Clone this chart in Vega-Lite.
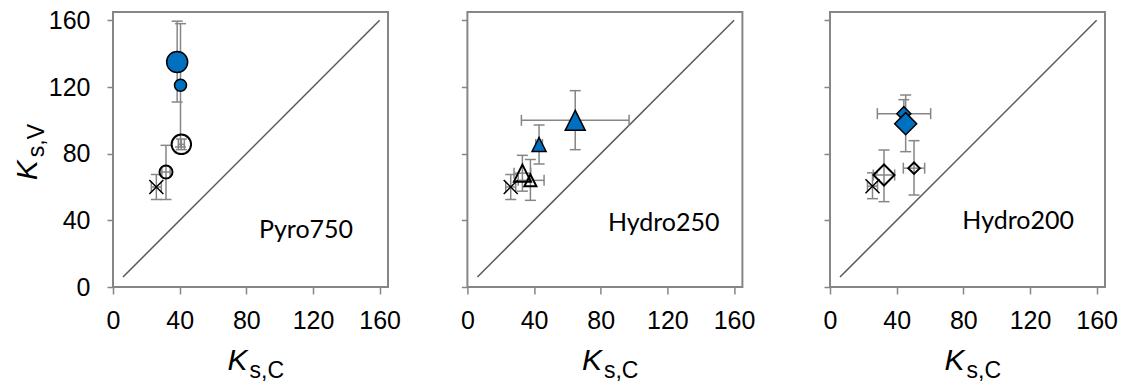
{
  "$schema": "https://vega.github.io/schema/vega-lite/v6.json",
  "padding": {"left": 11, "top": 7, "right": 5, "bottom": 0},
  "background": "white",
  "datasets": {
    "diag": [{"x1": 6, "y1": 6, "x2": 160, "y2": 160}],
    "points": [
      {"panel": "Pyro750", "kind": "ref", "x": 26, "y": 60, "xlo": 23, "xhi": 29, "ylo": 52.5, "yhi": 67.5},
      {"panel": "Pyro750", "kind": "open-small", "x": 31.8, "y": 69, "xlo": 29.3, "xhi": 34.3, "ylo": 52.5, "yhi": 85},
      {"panel": "Pyro750", "kind": "open-large", "x": 41, "y": 85.6, "xlo": 39.2, "xhi": 42.8, "ylo": 82.4, "yhi": 88.8},
      {"panel": "Pyro750", "kind": "filled-small", "x": 40.5, "y": 121, "xlo": 38.5, "xhi": 42.5, "ylo": 84, "yhi": 158},
      {"panel": "Pyro750", "kind": "filled-large", "x": 38.5, "y": 135, "xlo": 36, "xhi": 41, "ylo": 111, "yhi": 159.5},
      {"panel": "Hydro250", "kind": "ref", "x": 26, "y": 60, "xlo": 23, "xhi": 29, "ylo": 52.5, "yhi": 67.5},
      {"panel": "Hydro250", "kind": "open-large", "x": 33, "y": 68.3, "xlo": 28, "xhi": 38, "ylo": 57.5, "yhi": 79},
      {"panel": "Hydro250", "kind": "open-small", "x": 37.8, "y": 64, "xlo": 30.5, "xhi": 46, "ylo": 52, "yhi": 76.5},
      {"panel": "Hydro250", "kind": "filled-small", "x": 43, "y": 85.5, "xlo": 41, "xhi": 45, "ylo": 73.8, "yhi": 97.2},
      {"panel": "Hydro250", "kind": "filled-large", "x": 64.7, "y": 100, "xlo": 32.4, "xhi": 97, "ylo": 82.4, "yhi": 117.8},
      {"panel": "Hydro200", "kind": "ref", "x": 25.5, "y": 60.5, "xlo": 22.5, "xhi": 28.5, "ylo": 53, "yhi": 68.5},
      {"panel": "Hydro200", "kind": "open-large", "x": 32.4, "y": 67.2, "xlo": 26, "xhi": 38.8, "ylo": 51.2, "yhi": 82.2},
      {"panel": "Hydro200", "kind": "open-small", "x": 50.4, "y": 71.3, "xlo": 44, "xhi": 56.8, "ylo": 55.2, "yhi": 87.8},
      {"panel": "Hydro200", "kind": "filled-small", "x": 44.3, "y": 104, "xlo": 28.4, "xhi": 60.4, "ylo": 95.5, "yhi": 112.4},
      {"panel": "Hydro200", "kind": "filled-large", "x": 45.4, "y": 98, "xlo": 43.5, "xhi": 47.5, "ylo": 81.2, "yhi": 115.2}
    ],
    "labels": [
      {"panel": "Pyro750", "x": 115.8, "y": 34.1, "text": "Pyro750"},
      {"panel": "Hydro250", "x": 117.8, "y": 38.2, "text": "Hydro250"},
      {"panel": "Hydro200", "x": 112.9, "y": 39.7, "text": "Hydro200"}
    ]
  },
  "spacing": 79.4,
  "bounds": "flush",
  "resolve": {"scale": {"shape": "independent", "size": "independent", "fill": "independent", "strokeWidth": "independent"}},
  "hconcat": [
    {
      "width": 275, "height": 275,
      "resolve": {"axis": {"x": "independent", "y": "independent"}},
      "layer": [
        {"data": {"name": "diag"}, "mark": {"type": "rule", "color": "#595959", "strokeWidth": 1.5},
         "encoding": {
           "x": {"field": "x1", "type": "quantitative", "scale": {"domain": [0, 165], "nice": false},
                 "axis": {"values": [0, 40, 80, 120, 160], "title": "K", "titleX": 114, "titleY": 82.3, "titleAlign": "left", "titleBaseline": "alphabetic"}},
           "y": {"field": "y1", "type": "quantitative", "scale": {"domain": [0, 165], "nice": false},
                 "axis": {"values": [0, 40, 80, 120, 160], "title": "K", "titleX": -77, "titleY": 167.7, "titleAngle": 270, "titleAlign": "left", "titleBaseline": "alphabetic"}},
           "x2": {"field": "x2"}, "y2": {"field": "y2"}}},
        {"data": {"name": "points"}, "transform": [{"filter": "datum.panel === 'Pyro750'"}],
         "mark": {"type": "rule", "color": "#868686", "strokeWidth": 1.5},
         "encoding": {
           "x": {"field": "x", "type": "quantitative", "scale": {"domain": [0, 165], "nice": false}, "axis": null},
           "y": {"field": "ylo", "type": "quantitative", "scale": {"domain": [0, 165], "nice": false}, "axis": null},
           "y2": {"field": "yhi"}}},
        {"data": {"name": "points"}, "transform": [{"filter": "datum.panel === 'Pyro750'"}],
         "mark": {"type": "rule", "color": "#868686", "strokeWidth": 1.5},
         "encoding": {
           "x": {"field": "xlo", "type": "quantitative", "scale": {"domain": [0, 165], "nice": false}, "axis": null},
           "x2": {"field": "xhi"},
           "y": {"field": "y", "type": "quantitative", "scale": {"domain": [0, 165], "nice": false}, "axis": null}}},
        {"data": {"name": "points"}, "transform": [{"filter": "datum.panel === 'Pyro750'"}],
         "mark": {"type": "tick", "orient": "horizontal", "color": "#868686", "size": 11, "thickness": 1.5, "opacity": 1},
         "encoding": {
           "x": {"field": "x", "type": "quantitative", "scale": {"domain": [0, 165], "nice": false}, "axis": null},
           "y": {"field": "ylo", "type": "quantitative", "scale": {"domain": [0, 165], "nice": false}, "axis": null}}},
        {"data": {"name": "points"}, "transform": [{"filter": "datum.panel === 'Pyro750'"}],
         "mark": {"type": "tick", "orient": "horizontal", "color": "#868686", "size": 11, "thickness": 1.5, "opacity": 1},
         "encoding": {
           "x": {"field": "x", "type": "quantitative", "scale": {"domain": [0, 165], "nice": false}, "axis": null},
           "y": {"field": "yhi", "type": "quantitative", "scale": {"domain": [0, 165], "nice": false}, "axis": null}}},
        {"data": {"name": "points"}, "transform": [{"filter": "datum.panel === 'Pyro750'"}],
         "mark": {"type": "tick", "orient": "vertical", "color": "#868686", "size": 11, "thickness": 1.5, "opacity": 1},
         "encoding": {
           "x": {"field": "xlo", "type": "quantitative", "scale": {"domain": [0, 165], "nice": false}, "axis": null},
           "y": {"field": "y", "type": "quantitative", "scale": {"domain": [0, 165], "nice": false}, "axis": null}}},
        {"data": {"name": "points"}, "transform": [{"filter": "datum.panel === 'Pyro750'"}],
         "mark": {"type": "tick", "orient": "vertical", "color": "#868686", "size": 11, "thickness": 1.5, "opacity": 1},
         "encoding": {
           "x": {"field": "xhi", "type": "quantitative", "scale": {"domain": [0, 165], "nice": false}, "axis": null},
           "y": {"field": "y", "type": "quantitative", "scale": {"domain": [0, 165], "nice": false}, "axis": null}}},
        {"data": {"name": "points"}, "transform": [{"filter": "datum.panel === 'Pyro750'"}],
         "mark": {"type": "point", "filled": true, "stroke": "black", "opacity": 1},
         "encoding": {
           "x": {"field": "x", "type": "quantitative", "scale": {"domain": [0, 165], "nice": false}, "axis": null},
           "y": {"field": "y", "type": "quantitative", "scale": {"domain": [0, 165], "nice": false}, "axis": null},
           "shape": {"field": "kind", "type": "nominal", "legend": null,
                     "scale": {"domain": ["ref", "open-small", "open-large", "filled-small", "filled-large"],
                               "range": ["M-1,-1L1,1M-1,1L1,-1", "circle", "circle", "circle", "circle"]}},
           "size": {"field": "kind", "type": "nominal", "legend": null,
                    "scale": {"type": "ordinal", "domain": ["ref", "open-small", "open-large", "filled-small", "filled-large"],
                              "range": [196, 169, 380, 144, 441]}},
           "fill": {"field": "kind", "type": "nominal", "legend": null,
                    "scale": {"domain": ["ref", "open-small", "open-large", "filled-small", "filled-large"],
                              "range": ["transparent", "transparent", "transparent", "#0070C0", "#0070C0"]}},
           "strokeWidth": {"field": "kind", "type": "nominal", "legend": null,
                           "scale": {"type": "ordinal", "domain": ["ref", "open-small", "open-large", "filled-small", "filled-large"],
                                     "range": [1.5, 2, 2, 1.5, 1.5]}}}},
        {"data": {"name": "labels"}, "transform": [{"filter": "datum.panel === 'Pyro750'"}],
         "mark": {"type": "text", "font": "Lato", "fontSize": 25, "align": "center", "baseline": "middle", "color": "black"},
         "encoding": {
           "x": {"field": "x", "type": "quantitative", "scale": {"domain": [0, 165], "nice": false},
                 "axis": {"orient": "bottom", "title": "s,C", "titleFontStyle": "normal", "titleFontSize": 23, "titleX": 136, "titleY": 90.6, "titleAlign": "left", "titleBaseline": "alphabetic", "labels": false, "ticks": false, "domain": false}},
           "y": {"field": "y", "type": "quantitative", "scale": {"domain": [0, 165], "nice": false},
                 "axis": {"orient": "left", "title": "s,V", "titleFontStyle": "normal", "titleFontSize": 23, "titleX": -70, "titleY": 144.7, "titleAngle": 270, "titleAlign": "left", "titleBaseline": "alphabetic", "labels": false, "ticks": false, "domain": false}},
           "text": {"field": "text"}}}
      ]
    },
    {
      "spacing": 87.6,
      "bounds": "flush",
      "resolve": {"scale": {"shape": "independent", "size": "independent", "fill": "independent", "strokeWidth": "independent"}},
      "hconcat": [
        {
          "width": 275, "height": 275,
          "resolve": {"axis": {"x": "independent", "y": "independent"}},
          "layer": [
            {"data": {"name": "diag"}, "mark": {"type": "rule", "color": "#595959", "strokeWidth": 1.5},
             "encoding": {
               "x": {"field": "x1", "type": "quantitative", "scale": {"domain": [0, 165], "nice": false},
                     "axis": {"values": [0, 40, 80, 120, 160], "title": "K", "titleX": 114, "titleY": 82.3, "titleAlign": "left", "titleBaseline": "alphabetic"}},
               "y": {"field": "y1", "type": "quantitative", "scale": {"domain": [0, 165], "nice": false},
                     "axis": {"values": [0, 40, 80, 120, 160], "labels": false, "title": null}},
               "x2": {"field": "x2"}, "y2": {"field": "y2"}}},
            {"data": {"name": "points"}, "transform": [{"filter": "datum.panel === 'Hydro250'"}],
             "mark": {"type": "rule", "color": "#868686", "strokeWidth": 1.5},
             "encoding": {
               "x": {"field": "x", "type": "quantitative", "scale": {"domain": [0, 165], "nice": false}, "axis": null},
               "y": {"field": "ylo", "type": "quantitative", "scale": {"domain": [0, 165], "nice": false}, "axis": null},
               "y2": {"field": "yhi"}}},
            {"data": {"name": "points"}, "transform": [{"filter": "datum.panel === 'Hydro250'"}],
             "mark": {"type": "rule", "color": "#868686", "strokeWidth": 1.5},
             "encoding": {
               "x": {"field": "xlo", "type": "quantitative", "scale": {"domain": [0, 165], "nice": false}, "axis": null},
               "x2": {"field": "xhi"},
               "y": {"field": "y", "type": "quantitative", "scale": {"domain": [0, 165], "nice": false}, "axis": null}}},
            {"data": {"name": "points"}, "transform": [{"filter": "datum.panel === 'Hydro250'"}],
             "mark": {"type": "tick", "orient": "horizontal", "color": "#868686", "size": 11, "thickness": 1.5, "opacity": 1},
             "encoding": {
               "x": {"field": "x", "type": "quantitative", "scale": {"domain": [0, 165], "nice": false}, "axis": null},
               "y": {"field": "ylo", "type": "quantitative", "scale": {"domain": [0, 165], "nice": false}, "axis": null}}},
            {"data": {"name": "points"}, "transform": [{"filter": "datum.panel === 'Hydro250'"}],
             "mark": {"type": "tick", "orient": "horizontal", "color": "#868686", "size": 11, "thickness": 1.5, "opacity": 1},
             "encoding": {
               "x": {"field": "x", "type": "quantitative", "scale": {"domain": [0, 165], "nice": false}, "axis": null},
               "y": {"field": "yhi", "type": "quantitative", "scale": {"domain": [0, 165], "nice": false}, "axis": null}}},
            {"data": {"name": "points"}, "transform": [{"filter": "datum.panel === 'Hydro250'"}],
             "mark": {"type": "tick", "orient": "vertical", "color": "#868686", "size": 11, "thickness": 1.5, "opacity": 1},
             "encoding": {
               "x": {"field": "xlo", "type": "quantitative", "scale": {"domain": [0, 165], "nice": false}, "axis": null},
               "y": {"field": "y", "type": "quantitative", "scale": {"domain": [0, 165], "nice": false}, "axis": null}}},
            {"data": {"name": "points"}, "transform": [{"filter": "datum.panel === 'Hydro250'"}],
             "mark": {"type": "tick", "orient": "vertical", "color": "#868686", "size": 11, "thickness": 1.5, "opacity": 1},
             "encoding": {
               "x": {"field": "xhi", "type": "quantitative", "scale": {"domain": [0, 165], "nice": false}, "axis": null},
               "y": {"field": "y", "type": "quantitative", "scale": {"domain": [0, 165], "nice": false}, "axis": null}}},
            {"data": {"name": "points"}, "transform": [{"filter": "datum.panel === 'Hydro250'"}],
             "mark": {"type": "point", "filled": true, "stroke": "black", "opacity": 1},
             "encoding": {
               "x": {"field": "x", "type": "quantitative", "scale": {"domain": [0, 165], "nice": false}, "axis": null},
               "y": {"field": "y", "type": "quantitative", "scale": {"domain": [0, 165], "nice": false}, "axis": null},
               "shape": {"field": "kind", "type": "nominal", "legend": null,
                         "scale": {"domain": ["ref", "open-small", "open-large", "filled-small", "filled-large"],
                                   "range": ["M-1,-1L1,1M-1,1L1,-1", "M0,-1L1,1L-1,1Z", "M0,-1L1,1L-1,1Z", "M0,-1L1,1L-1,1Z", "M0,-1L1,1L-1,1Z"]}},
               "size": {"field": "kind", "type": "nominal", "legend": null,
                        "scale": {"type": "ordinal", "domain": ["ref", "open-small", "open-large", "filled-small", "filled-large"],
                                  "range": [196, 144, 289, 196, 400]}},
               "fill": {"field": "kind", "type": "nominal", "legend": null,
                        "scale": {"domain": ["ref", "open-small", "open-large", "filled-small", "filled-large"],
                                  "range": ["transparent", "transparent", "transparent", "#0070C0", "#0070C0"]}},
               "strokeWidth": {"field": "kind", "type": "nominal", "legend": null,
                               "scale": {"type": "ordinal", "domain": ["ref", "open-small", "open-large", "filled-small", "filled-large"],
                                         "range": [1.5, 2, 2, 1.5, 1.5]}}}},
            {"data": {"name": "labels"}, "transform": [{"filter": "datum.panel === 'Hydro250'"}],
             "mark": {"type": "text", "font": "Lato", "fontSize": 25, "align": "center", "baseline": "middle", "color": "black"},
             "encoding": {
               "x": {"field": "x", "type": "quantitative", "scale": {"domain": [0, 165], "nice": false},
                     "axis": {"orient": "bottom", "title": "s,C", "titleFontStyle": "normal", "titleFontSize": 23, "titleX": 136, "titleY": 90.6, "titleAlign": "left", "titleBaseline": "alphabetic", "labels": false, "ticks": false, "domain": false}},
               "y": {"field": "y", "type": "quantitative", "scale": {"domain": [0, 165], "nice": false}, "axis": null},
               "text": {"field": "text"}}}
          ]
        },
        {
          "width": 275, "height": 275,
          "resolve": {"axis": {"x": "independent", "y": "independent"}},
          "layer": [
            {"data": {"name": "diag"}, "mark": {"type": "rule", "color": "#595959", "strokeWidth": 1.5},
             "encoding": {
               "x": {"field": "x1", "type": "quantitative", "scale": {"domain": [0, 165], "nice": false},
                     "axis": {"values": [0, 40, 80, 120, 160], "title": "K", "titleX": 114, "titleY": 82.3, "titleAlign": "left", "titleBaseline": "alphabetic"}},
               "y": {"field": "y1", "type": "quantitative", "scale": {"domain": [0, 165], "nice": false},
                     "axis": {"values": [0, 40, 80, 120, 160], "labels": false, "title": null}},
               "x2": {"field": "x2"}, "y2": {"field": "y2"}}},
            {"data": {"name": "points"}, "transform": [{"filter": "datum.panel === 'Hydro200'"}],
             "mark": {"type": "rule", "color": "#868686", "strokeWidth": 1.5},
             "encoding": {
               "x": {"field": "x", "type": "quantitative", "scale": {"domain": [0, 165], "nice": false}, "axis": null},
               "y": {"field": "ylo", "type": "quantitative", "scale": {"domain": [0, 165], "nice": false}, "axis": null},
               "y2": {"field": "yhi"}}},
            {"data": {"name": "points"}, "transform": [{"filter": "datum.panel === 'Hydro200'"}],
             "mark": {"type": "rule", "color": "#868686", "strokeWidth": 1.5},
             "encoding": {
               "x": {"field": "xlo", "type": "quantitative", "scale": {"domain": [0, 165], "nice": false}, "axis": null},
               "x2": {"field": "xhi"},
               "y": {"field": "y", "type": "quantitative", "scale": {"domain": [0, 165], "nice": false}, "axis": null}}},
            {"data": {"name": "points"}, "transform": [{"filter": "datum.panel === 'Hydro200'"}],
             "mark": {"type": "tick", "orient": "horizontal", "color": "#868686", "size": 11, "thickness": 1.5, "opacity": 1},
             "encoding": {
               "x": {"field": "x", "type": "quantitative", "scale": {"domain": [0, 165], "nice": false}, "axis": null},
               "y": {"field": "ylo", "type": "quantitative", "scale": {"domain": [0, 165], "nice": false}, "axis": null}}},
            {"data": {"name": "points"}, "transform": [{"filter": "datum.panel === 'Hydro200'"}],
             "mark": {"type": "tick", "orient": "horizontal", "color": "#868686", "size": 11, "thickness": 1.5, "opacity": 1},
             "encoding": {
               "x": {"field": "x", "type": "quantitative", "scale": {"domain": [0, 165], "nice": false}, "axis": null},
               "y": {"field": "yhi", "type": "quantitative", "scale": {"domain": [0, 165], "nice": false}, "axis": null}}},
            {"data": {"name": "points"}, "transform": [{"filter": "datum.panel === 'Hydro200'"}],
             "mark": {"type": "tick", "orient": "vertical", "color": "#868686", "size": 11, "thickness": 1.5, "opacity": 1},
             "encoding": {
               "x": {"field": "xlo", "type": "quantitative", "scale": {"domain": [0, 165], "nice": false}, "axis": null},
               "y": {"field": "y", "type": "quantitative", "scale": {"domain": [0, 165], "nice": false}, "axis": null}}},
            {"data": {"name": "points"}, "transform": [{"filter": "datum.panel === 'Hydro200'"}],
             "mark": {"type": "tick", "orient": "vertical", "color": "#868686", "size": 11, "thickness": 1.5, "opacity": 1},
             "encoding": {
               "x": {"field": "xhi", "type": "quantitative", "scale": {"domain": [0, 165], "nice": false}, "axis": null},
               "y": {"field": "y", "type": "quantitative", "scale": {"domain": [0, 165], "nice": false}, "axis": null}}},
            {"data": {"name": "points"}, "transform": [{"filter": "datum.panel === 'Hydro200'"}],
             "mark": {"type": "point", "filled": true, "stroke": "black", "opacity": 1},
             "encoding": {
               "x": {"field": "x", "type": "quantitative", "scale": {"domain": [0, 165], "nice": false}, "axis": null},
               "y": {"field": "y", "type": "quantitative", "scale": {"domain": [0, 165], "nice": false}, "axis": null},
               "shape": {"field": "kind", "type": "nominal", "legend": null,
                         "scale": {"domain": ["ref", "open-small", "open-large", "filled-small", "filled-large"],
                                   "range": ["M-1,-1L1,1M-1,1L1,-1", "diamond", "diamond", "diamond", "diamond"]}},
               "size": {"field": "kind", "type": "nominal", "legend": null,
                        "scale": {"type": "ordinal", "domain": ["ref", "open-small", "open-large", "filled-small", "filled-large"],
                                  "range": [196, 132, 441, 196, 484]}},
               "fill": {"field": "kind", "type": "nominal", "legend": null,
                        "scale": {"domain": ["ref", "open-small", "open-large", "filled-small", "filled-large"],
                                  "range": ["transparent", "transparent", "transparent", "#0070C0", "#0070C0"]}},
               "strokeWidth": {"field": "kind", "type": "nominal", "legend": null,
                               "scale": {"type": "ordinal", "domain": ["ref", "open-small", "open-large", "filled-small", "filled-large"],
                                         "range": [1.5, 2, 2, 1.5, 1.5]}}}},
            {"data": {"name": "labels"}, "transform": [{"filter": "datum.panel === 'Hydro200'"}],
             "mark": {"type": "text", "font": "Lato", "fontSize": 25, "align": "center", "baseline": "middle", "color": "black"},
             "encoding": {
               "x": {"field": "x", "type": "quantitative", "scale": {"domain": [0, 165], "nice": false},
                     "axis": {"orient": "bottom", "title": "s,C", "titleFontStyle": "normal", "titleFontSize": 23, "titleX": 136, "titleY": 90.6, "titleAlign": "left", "titleBaseline": "alphabetic", "labels": false, "ticks": false, "domain": false}},
               "y": {"field": "y", "type": "quantitative", "scale": {"domain": [0, 165], "nice": false}, "axis": null},
               "text": {"field": "text"}}}
          ]
        }
      ]
    }
  ],
  "config": {
    "view": {"stroke": "#868686", "strokeWidth": 2},
    "axis": {
      "domain": false, "grid": false,
      "tickColor": "#868686", "tickWidth": 1.5,
      "labelFont": "Liberation Sans", "labelFontSize": 25, "labelColor": "#000000", "labelFlush": false,
      "titleFont": "Liberation Sans", "titleFontSize": 30, "titleFontStyle": "italic", "titleFontWeight": "normal", "titleColor": "#000000"
    },
    "axisX": {"tickSize": 7, "labelPadding": 14},
    "axisY": {"tickSize": 6, "labelPadding": 17}
  }
}
